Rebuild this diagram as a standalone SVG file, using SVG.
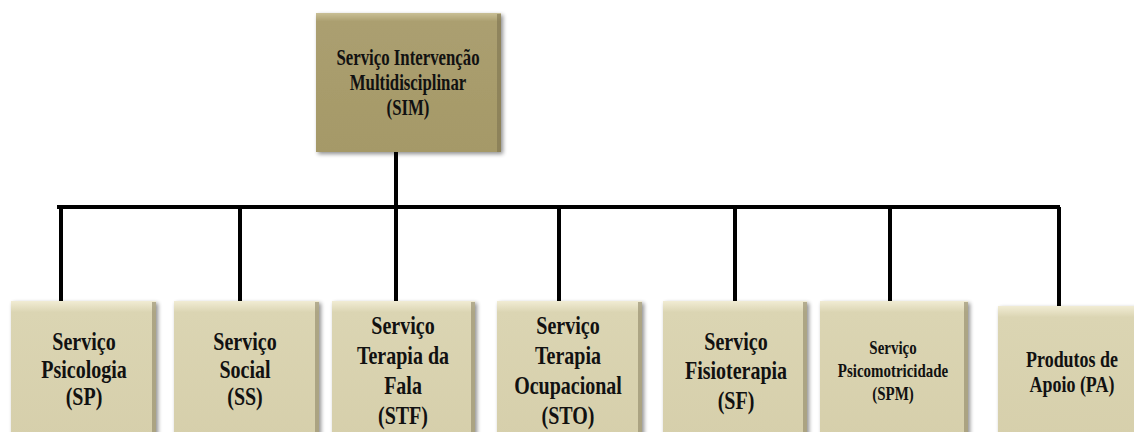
<svg xmlns="http://www.w3.org/2000/svg" width="1134" height="432" viewBox="0 0 1134 432">
<style>
.t{font-family:'Liberation Serif','Times New Roman',serif;font-weight:bold;fill:#111;text-anchor:middle}
.top{font-size:23px}
.b{font-size:25px}
.s{font-size:18px}
.ln{stroke:#000;stroke-width:4;fill:none}
</style>
<defs>
<linearGradient id="gTop" x1="0" y1="0" x2="0" y2="1">
<stop offset="0" stop-color="#c9bf95"/>
<stop offset="0.06" stop-color="#ab9f70"/>
<stop offset="1" stop-color="#a59968"/>
</linearGradient>
<linearGradient id="gBot" x1="0" y1="0" x2="0" y2="1">
<stop offset="0" stop-color="#f1ecd4"/>
<stop offset="0.08" stop-color="#dbd5b3"/>
<stop offset="1" stop-color="#d6cfab"/>
</linearGradient>
<filter id="sh" x="-10%" y="-10%" width="125%" height="125%">
<feGaussianBlur in="SourceAlpha" stdDeviation="2"/>
<feOffset dx="2" dy="2"/>
<feComponentTransfer><feFuncA type="linear" slope="0.45"/></feComponentTransfer>
<feMerge><feMergeNode/><feMergeNode in="SourceGraphic"/></feMerge>
</filter>
</defs>
<rect width="1134" height="432" fill="#fff"/>
<g id="connectors">
<path class="ln" d="M396 147 V207"/>
<path class="ln" d="M57 207 H1060"/>
<path class="ln" d="M61 207 V302 M240 207 V302 M396 207 V302 M559 207 V302 M735 207 V302 M890 207 V302 M1059 207 V306"/>
</g>
<g id="sim">
<rect x="316" y="13" width="185" height="139" fill="url(#gTop)" filter="url(#sh)"/>
<rect x="497" y="14" width="4" height="138" fill="#7d7350" opacity="0.6"/>
<text class="t top" transform="translate(408,0) scale(0.73,1)"><tspan x="0" y="65">Serviço Intervenção</tspan><tspan x="0" y="90">Multidisciplinar</tspan><tspan x="0" y="115">(SIM)</tspan></text>
</g>
<g id="sp">
<rect x="11" y="301" width="145" height="140" fill="url(#gBot)" filter="url(#sh)"/>
<rect x="152" y="302" width="4" height="140" fill="#8d8665" opacity="0.6"/>
<text class="t b" transform="translate(84,0) scale(0.8,1)"><tspan x="0" y="350">Serviço</tspan><tspan x="0" y="378">Psicologia</tspan><tspan x="0" y="405">(SP)</tspan></text>
</g>
<g id="ss">
<rect x="174" y="301" width="145" height="140" fill="url(#gBot)" filter="url(#sh)"/>
<rect x="315" y="302" width="4" height="140" fill="#8d8665" opacity="0.6"/>
<text class="t b" transform="translate(245,0) scale(0.8,1)"><tspan x="0" y="350">Serviço</tspan><tspan x="0" y="378">Social</tspan><tspan x="0" y="405">(SS)</tspan></text>
</g>
<g id="stf">
<rect x="332" y="301" width="143" height="140" fill="url(#gBot)" filter="url(#sh)"/>
<rect x="471" y="302" width="4" height="140" fill="#8d8665" opacity="0.6"/>
<text class="t b" transform="translate(403,0) scale(0.8,1)"><tspan x="0" y="334">Serviço</tspan><tspan x="0" y="364">Terapia da</tspan><tspan x="0" y="394">Fala</tspan><tspan x="0" y="424">(STF)</tspan></text>
</g>
<g id="sto">
<rect x="497" y="301" width="145" height="140" fill="url(#gBot)" filter="url(#sh)"/>
<rect x="638" y="302" width="4" height="140" fill="#8d8665" opacity="0.6"/>
<text class="t b" transform="translate(568,0) scale(0.8,1)"><tspan x="0" y="334">Serviço</tspan><tspan x="0" y="364">Terapia</tspan><tspan x="0" y="394">Ocupacional</tspan><tspan x="0" y="424">(STO)</tspan></text>
</g>
<g id="sf">
<rect x="663" y="301" width="144" height="140" fill="url(#gBot)" filter="url(#sh)"/>
<rect x="803" y="302" width="4" height="140" fill="#8d8665" opacity="0.6"/>
<text class="t b" transform="translate(736,0) scale(0.8,1)"><tspan x="0" y="350">Serviço</tspan><tspan x="0" y="379">Fisioterapia</tspan><tspan x="0" y="409">(SF)</tspan></text>
</g>
<g id="spm">
<rect x="820" y="301" width="148" height="140" fill="url(#gBot)" filter="url(#sh)"/>
<rect x="964" y="302" width="4" height="140" fill="#8d8665" opacity="0.6"/>
<text class="t s" transform="translate(893,0) scale(0.83,1)"><tspan x="0" y="354">Serviço</tspan><tspan x="0" y="377">Psicomotricidade</tspan><tspan x="0" y="400">(SPM)</tspan></text>
</g>
<g id="pa">
<rect x="998" y="306" width="140" height="140" fill="url(#gBot)" filter="url(#sh)"/>
<text class="t b" transform="translate(1072,0) scale(0.78,1)" style="font-size:23px"><tspan x="0" y="367">Produtos de</tspan><tspan x="0" y="392">Apoio (PA)</tspan></text>
</g>
</svg>
